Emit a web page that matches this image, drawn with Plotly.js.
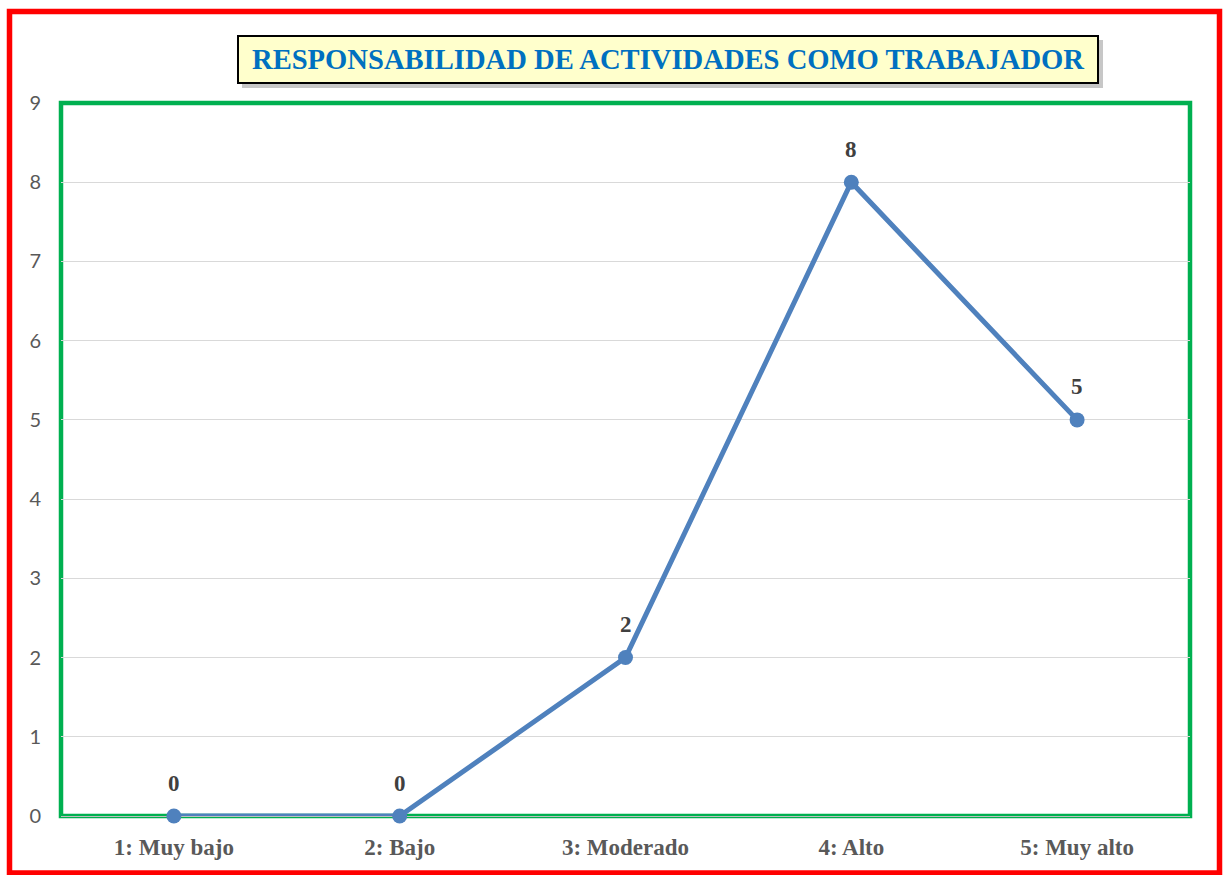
<!DOCTYPE html>
<html>
<head>
<meta charset="utf-8">
<script src="https://cdn.plot.ly/plotly-3.0.1.min.js"></script>
<style>html,body{margin:0;padding:0;background:#fff;}#chart{width:1224px;height:875px;}</style>
</head>
<body>
<div id="chart"></div>
<script>
const categories = ["1: Muy bajo", "2: Bajo", "3: Moderado", "4: Alto", "5: Muy alto"];
const values = [0, 0, 2, 8, 5];
const yTicks = [0, 1, 2, 3, 4, 5, 6, 7, 8, 9];
const titleText = "RESPONSABILIDAD DE ACTIVIDADES COMO TRABAJADOR";

const W = 1224, H = 875;
const mL = 61, mR = 34, mT = 103, mB = 59;
const pw = W - mL - mR, ph = H - mT - mB;
const px = x => (x - mL) / pw;
const py = y => (H - mB - y) / ph;

const trace = {
  type: "scatter",
  mode: "lines+markers",
  x: categories,
  y: values,
  line: {color: "#4F81BD", width: 5},
  marker: {color: "#4F81BD", size: 15},
  hoverinfo: "skip",
  cliponaxis: false
};

const labelAnns = categories.map((c, i) => ({
  x: c, y: values[i], xref: "x", yref: "y",
  text: "<b>" + values[i] + "</b>", showarrow: false,
  yshift: 33,
  font: {family: "Liberation Serif", size: 23, color: "#404040"}
}));

const layout = {
  width: W, height: H,
  margin: {l: mL, r: mR, t: mT, b: mB, pad: 0},
  paper_bgcolor: "#ffffff",
  plot_bgcolor: "#ffffff",
  showlegend: false,
  xaxis: {
    type: "category",
    range: [-0.5, 4.5],
    showgrid: false,
    zeroline: false,
    showline: false,
    ticks: "",
    ticklabelstandoff: 15,
    tickfont: {family: "Liberation Serif", size: 23, color: "#595959", weight: "bold"},
    fixedrange: true
  },
  yaxis: {
    range: [0, 9],
    tickvals: yTicks,
    ticktext: yTicks.map(String),
    showgrid: true,
    gridcolor: "#D9D9D9",
    gridwidth: 1,
    zeroline: true,
    zerolinecolor: "#BFBFBF",
    zerolinewidth: 1,
    showline: false,
    ticks: "",
    ticklabelstandoff: 19,
    tickfont: {family: "Lato", size: 20, color: "#595959"},
    fixedrange: true
  },
  shapes: [
    {type: "rect", xref: "paper", yref: "paper",
     x0: px(9.5), x1: px(1219.5), y0: py(873), y1: py(11.5),
     line: {color: "#FF0000", width: 5.5}, layer: "above"},
    {type: "rect", xref: "paper", yref: "paper",
     x0: 0, x1: 1, y0: 0, y1: 1,
     line: {color: "#00B050", width: 4.5}, layer: "between"},
    {type: "rect", xref: "paper", yref: "paper",
     x0: px(242), x1: px(1103), y0: py(88), y1: py(40),
     fillcolor: "rgba(0,0,0,0.22)", line: {width: 0}, layer: "above"},
    {type: "rect", xref: "paper", yref: "paper",
     x0: px(238), x1: px(1098), y0: py(83), y1: py(36),
     fillcolor: "#FFFFCC", line: {color: "#000000", width: 2}, layer: "above"}
  ],
  annotations: labelAnns.concat([{
    xref: "paper", yref: "paper",
    x: px(668), y: py(60), xanchor: "center", yanchor: "middle",
    text: "<b>" + titleText + "</b>", showarrow: false,
    font: {family: "Liberation Serif", size: 28.6, color: "#0070C0"}
  }])
};

Plotly.newPlot("chart", [trace], layout, {displayModeBar: false, staticPlot: true});
</script>
</body>
</html>
